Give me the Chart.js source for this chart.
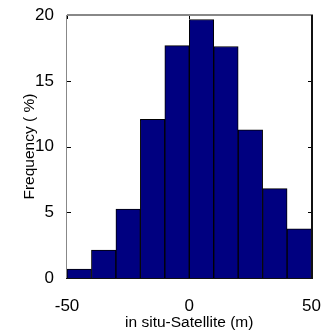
<!DOCTYPE html>
<html>
<head>
<meta charset="utf-8">
<script src="https://cdn.jsdelivr.net/npm/chart.js@4"></script>
<style>
  html, body { margin: 0; padding: 0; background: #fff; }
  #wrap { width: 331px; height: 335px; }
</style>
</head>
<body>
<div id="wrap"><canvas id="hist" width="331" height="335"></canvas></div>
<script>
// histogram bins (centres, m) and frequencies (%)
const binCenters = [-45, -35, -25, -15, -5, 5, 15, 25, 35, 45];
const frequency = [0.68, 2.13, 5.24, 12.07, 17.69, 19.67, 17.62, 11.27, 6.80, 3.74];
const xTicks = [-50, 0, 50];
const yTicks = [0, 5, 10, 15, 20];

const FONT = 'Liberation Sans, Arial, Helvetica, sans-serif';

// matlab-style box with inward ticks
const boxTicks = {
    id: 'boxTicks',
    beforeDatasetsDraw(chart) {
        const { ctx, chartArea: a, scales } = chart;
        ctx.save();
        ctx.fillStyle = '#000';
        yTicks.forEach(v => {
            const y = Math.round(scales.y.getPixelForValue(v));
            ctx.fillRect(Math.round(a.left), y, 4, 1);
            ctx.fillRect(Math.round(a.right) - 4, y, 4, 1);
        });
        xTicks.forEach(v => {
            const x = Math.round(scales.x.getPixelForValue(v));
            ctx.fillRect(x, Math.round(a.top), 1, 4);
            ctx.fillRect(x, Math.round(a.bottom) - 4, 1, 4);
        });
        ctx.restore();
    },
    afterDraw(chart) {
        const { ctx, chartArea: a } = chart;
        const l = Math.round(a.left), r = Math.round(a.right);
        const t = Math.round(a.top), b = Math.round(a.bottom);
        ctx.save();
        ctx.fillStyle = '#888888';
        ctx.fillRect(l, t - 1, r - l + 1, 2);
        ctx.fillRect(l - 1, t, 1, b - t);
        ctx.fillStyle = '#111111';
        ctx.fillRect(r - 1, t, 2, b - t + 1);
        ctx.fillRect(l - 1, b, r - l + 1, 1);
        ctx.restore();
    }
};

new Chart(document.getElementById('hist').getContext('2d'), {
    type: 'bar',
    data: {
        datasets: [{
            data: binCenters.map((x, i) => ({ x: x, y: frequency[i] })),
            backgroundColor: '#000080',
            borderColor: '#000000',
            borderWidth: 1,
            barPercentage: 1,
            categoryPercentage: 1
        }]
    },
    options: {
        responsive: false,
        animation: false,
        layout: { padding: { top: 13, right: 19, left: 0, bottom: 0 } },
        plugins: {
            legend: { display: false },
            tooltip: { enabled: false }
        },
        scales: {
            x: {
                type: 'linear',
                offset: false,
                min: -50,
                max: 50,
                grid: { display: false, offset: false },
                border: { display: false },
                afterBuildTicks: s => { s.ticks = xTicks.map(v => ({ value: v })); },
                afterFit: s => { s.height = 57; },
                ticks: {
                    color: '#000',
                    padding: 10,
                    maxRotation: 0,
                    font: { family: FONT, size: 17 }
                },
                title: {
                    display: true,
                    text: 'in situ-Satellite (m)',
                    color: '#000',
                    padding: { top: 0, bottom: 3 },
                    font: { family: FONT, size: 15.5 }
                }
            },
            y: {
                min: 0,
                max: 20,
                grid: { display: false },
                border: { display: false },
                afterBuildTicks: s => { s.ticks = yTicks.map(v => ({ value: v })); },
                afterFit: s => { s.width = 67; },
                ticks: {
                    color: '#000',
                    padding: 5,
                    font: { family: FONT, size: 17 }
                },
                title: {
                    display: true,
                    text: 'Frequency ( %)',
                    color: '#000',
                    padding: { top: 20, bottom: 0 },
                    font: { family: FONT, size: 15.5 }
                }
            }
        }
    },
    plugins: [boxTicks]
});
</script>
</body>
</html>
